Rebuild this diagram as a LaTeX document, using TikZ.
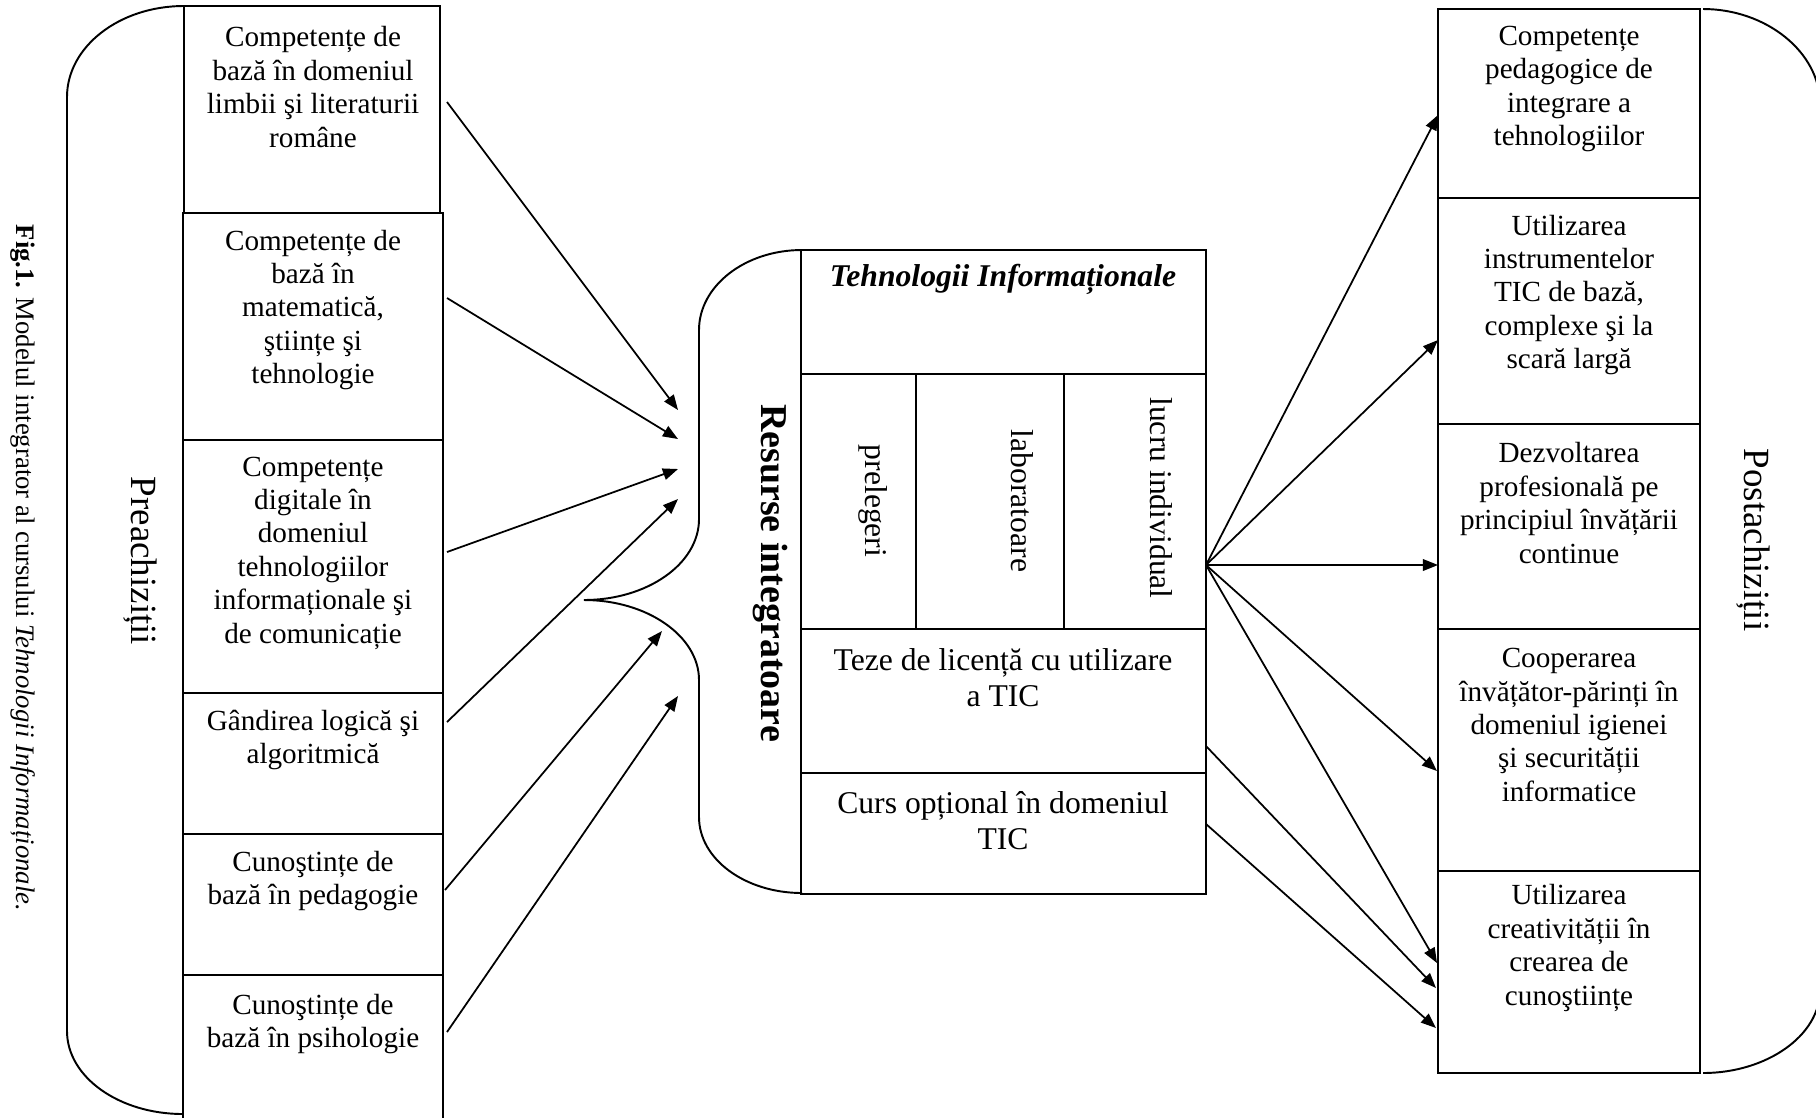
\documentclass[tikz,border=0pt]{standalone}
\usepackage{fontspec}
\setmainfont{Liberation Serif}
\usetikzlibrary{arrows.meta,fit}
\begin{document}
\begin{tikzpicture}[x=0.01cm,y=-0.01cm,
  boxline/.style={draw,line width=0.6pt,inner sep=0pt},
  sidetxt/.style={align=center,font=\fontsize{8.3}{9.5}\selectfont,inner sep=0pt},
  midtxt/.style={align=center,font=\fontsize{9}{10.3}\selectfont,inner sep=0pt},
  vtxt/.style={rotate=-90,font=\fontsize{9}{10.3}\selectfont,inner sep=0pt},
  brace/.style={line width=0.55pt},
  arr/.style={line width=0.5pt,-{Triangle[length=4.3pt,width=3.3pt]}}]
\useasboundingbox (0,0) rectangle (1816,1117);

% caption
\node[rotate=-90,font=\fontsize{7.6}{9}\selectfont,inner sep=0pt] (cap) at (23,568)
  {\textbf{Fig.1.} Modelul integrator al cursului \textit{Tehnologii Informaționale.}};

% left brace
\draw[brace] (184,6) .. controls (119,6) and (67,47) .. (67,97)
  -- (67,1031) .. controls (67,1077) and (119,1114) .. (183,1114);
\node[rotate=-90,font=\fontsize{10.5}{12}\selectfont,inner sep=0pt] (pre) at (140,561) {Preachiziții};

% left boxes
\node[boxline,fit={(184,6) (440,213)}] (L1) {};
\node[boxline,fit={(183,213) (443,440)}] (L2) {};
\node[boxline,fit={(183,440) (443,693)}] (L3) {};
\node[boxline,fit={(183,693) (443,834)}] (L4) {};
\node[boxline,fit={(183,834) (443,975)}] (L5) {};
\node[boxline,fit={(183,975) (443,1160)}] (L6) {};
\node[sidetxt] (tL1) at (313,87) {Competențe de\\bază în domeniul\\limbii şi literaturii\\române};
\node[sidetxt] (tL2) at (313,310) {Competențe de\\bază în\\matematică,\\ştiințe şi\\tehnologie};
\node[sidetxt] (tL3) at (313,553) {Competențe\\digitale în\\domeniul\\tehnologiilor\\informaționale şi\\de comunicație};
\node[sidetxt] (tL4) at (313,740) {Gândirea logică şi\\algoritmică};
\node[sidetxt] (tL5) at (313,881) {Cunoştințe de\\bază în pedagogie};
\node[sidetxt] (tL6) at (313,1024) {Cunoştințe de\\bază în psihologie};

% centre brace
\draw[brace] (802,250) .. controls (745,250) and (699,286) .. (699,330)
  -- (699,519) .. controls (699,564) and (647,600) .. (584,600)
  .. controls (647,600) and (699,636) .. (699,680)
  -- (699,817) .. controls (699,859) and (745,893) .. (802,893);
\node[rotate=-90,font=\bfseries\fontsize{10.8}{12}\selectfont,inner sep=0pt] (res) at (770,573) {Resurse integratoare};

% centre boxes
\node[boxline,fit={(801,250) (1206,374)}] (C1) {};
\node[boxline,fit={(801,374) (916,629)}] (C2a) {};
\node[boxline,fit={(916,374) (1064,629)}] (C2b) {};
\node[boxline,fit={(1064,374) (1206,629)}] (C2c) {};
\node[boxline,fit={(801,629) (1206,773)}] (C3) {};
\node[boxline,fit={(801,773) (1206,894)}] (C4) {};
\node[midtxt] (tC1) at (1003,279) {\textbf{\textit{Tehnologii Informaționale}}};
\node[vtxt] (tC2a) at (873,501) {prelegeri};
\node[vtxt] (tC2b) at (1022,501) {laboratoare};
\node[vtxt] (tC2c) at (1161,498) {lucru individual};
\node[midtxt] (tC3) at (1003,678) {Teze de licență cu utilizare\\a TIC};
\node[midtxt] (tC4) at (1003,821) {Curs opțional în domeniul\\TIC};

% right brace
\draw[brace] (1703,9) .. controls (1766,9) and (1820,52) .. (1820,104)
  -- (1820,990) .. controls (1820,1036) and (1766,1073) .. (1703,1073);
\node[rotate=-90,font=\fontsize{10.5}{12}\selectfont,inner sep=0pt] (post) at (1753,540) {Postachiziții};

% right boxes
\node[boxline,fit={(1438,9) (1700,198)}] (R1) {};
\node[boxline,fit={(1438,198) (1700,424)}] (R2) {};
\node[boxline,fit={(1438,424) (1700,629)}] (R3) {};
\node[boxline,fit={(1438,629) (1700,871)}] (R4) {};
\node[boxline,fit={(1438,871) (1700,1073)}] (R5) {};
\node[sidetxt] (tR1) at (1569,89) {Competențe\\pedagogice de\\integrare a\\tehnologiilor};
\node[sidetxt] (tR2) at (1569,295) {Utilizarea\\instrumentelor\\TIC de bază,\\complexe şi la\\scară largă};
\node[sidetxt] (tR3) at (1569,503) {Dezvoltarea\\profesională pe\\principiul învățării\\continue};
\node[sidetxt] (tR4) at (1569,725) {Cooperarea\\învățător-părinți în\\domeniul igienei\\şi securității\\informatice};
\node[sidetxt] (tR5) at (1569,948) {Utilizarea\\creativității în\\crearea de\\cunoştiințe};

% connector ends
\coordinate (s1) at (447,102);
\coordinate (s2) at (447,298);
\coordinate (s3) at (447,552);
\coordinate (s4) at (447,722);
\coordinate (s5) at (445,890);
\coordinate (s6) at (447,1032);
\coordinate (e1) at (678,410);
\coordinate (e2) at (678,439);
\coordinate (e3) at (678,469);
\coordinate (e4) at (678,499);
\coordinate (e5) at (662,631);
\coordinate (e6) at (678,696);
\coordinate (o1) at (1206,565);
\coordinate (o2) at (1206,746);
\coordinate (o3) at (1206,824);
\coordinate (q1) at (1438,115);
\coordinate (q2) at (1438,340);
\coordinate (q3) at (1438,565);
\coordinate (q4) at (1437,771);
\coordinate (q5) at (1437,963);
\coordinate (q6) at (1436,988);
\coordinate (q7) at (1436,1028);

\draw[arr] (s1) -- (e1);
\draw[arr] (s2) -- (e2);
\draw[arr] (s3) -- (e3);
\draw[arr] (s4) -- (e4);
\draw[arr] (s5) -- (e5);
\draw[arr] (s6) -- (e6);
\draw[arr] (o1) -- (q1);
\draw[arr] (o1) -- (q2);
\draw[arr] (o1) -- (q3);
\draw[arr] (o1) -- (q4);
\draw[arr] (o1) -- (q5);
\draw[arr] (o2) -- (q6);
\draw[arr] (o3) -- (q7);
\end{tikzpicture}
\end{document}
